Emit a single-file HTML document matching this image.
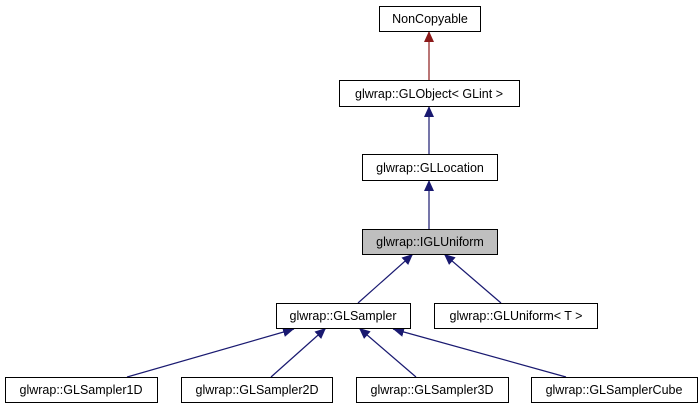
<!DOCTYPE html>
<html><head><meta charset="utf-8"><style>
html,body{margin:0;padding:0;background:#fff;width:699px;height:411px;overflow:hidden}
text{font-family:"Liberation Sans",sans-serif;font-size:12.5px;text-anchor:middle}
</style></head><body>
<svg width="699" height="411" viewBox="0 0 699 411" xmlns="http://www.w3.org/2000/svg">
<defs>
<marker id="b" markerWidth="12" markerHeight="12" refX="11" refY="5" orient="auto" markerUnits="userSpaceOnUse"><path d="M0,0 L11,5 L0,10 z" fill="#191970"/></marker>
<marker id="r" markerWidth="12" markerHeight="12" refX="11" refY="5" orient="auto" markerUnits="userSpaceOnUse"><path d="M0,0 L11,5 L0,10 z" fill="#8b1a1a"/></marker>
</defs>
<g stroke-width="1.2" fill="none">
<line x1="429" y1="80" x2="429" y2="31" stroke="#8b1a1a" marker-end="url(#r)"/>
<line x1="429" y1="154" x2="429" y2="106" stroke="#191970" marker-end="url(#b)"/>
<line x1="429" y1="229" x2="429" y2="180" stroke="#191970" marker-end="url(#b)"/>
<line x1="358" y1="303" x2="413" y2="254" stroke="#191970" marker-end="url(#b)"/>
<line x1="501" y1="303" x2="444" y2="254" stroke="#191970" marker-end="url(#b)"/>
<line x1="127" y1="377" x2="294" y2="329" stroke="#191970" marker-end="url(#b)"/>
<line x1="271" y1="377" x2="326" y2="328" stroke="#191970" marker-end="url(#b)"/>
<line x1="416" y1="377" x2="359" y2="328" stroke="#191970" marker-end="url(#b)"/>
<line x1="566" y1="377" x2="393" y2="329" stroke="#191970" marker-end="url(#b)"/>
</g>
<g stroke="#000" stroke-width="1" fill="#fff">
<rect x="379.5" y="6.5" width="101" height="25"/>
<rect x="339.5" y="80.5" width="180" height="26"/>
<rect x="362.5" y="154.5" width="135" height="26"/>
<rect x="362.5" y="229.5" width="135" height="25" fill="#bfbfbf"/>
<rect x="276.5" y="303.5" width="134" height="25"/>
<rect x="434.5" y="303.5" width="163" height="25"/>
<rect x="5.5" y="377.5" width="152" height="25"/>
<rect x="181.5" y="377.5" width="151" height="25"/>
<rect x="356.5" y="377.5" width="152" height="25"/>
<rect x="531.5" y="377.5" width="166" height="25"/>
</g>
<text x="430" y="23">NonCopyable</text>
<text x="429" y="98">glwrap::GLObject&lt; GLint &gt;</text>
<text x="430" y="172">glwrap::GLLocation</text>
<text x="430" y="246">glwrap::IGLUniform</text>
<text x="343" y="320">glwrap::GLSampler</text>
<text x="516" y="320">glwrap::GLUniform&lt; T &gt;</text>
<text x="81" y="394">glwrap::GLSampler1D</text>
<text x="257" y="394">glwrap::GLSampler2D</text>
<text x="432" y="394">glwrap::GLSampler3D</text>
<text x="614" y="394">glwrap::GLSamplerCube</text>
</svg>
</body></html>
